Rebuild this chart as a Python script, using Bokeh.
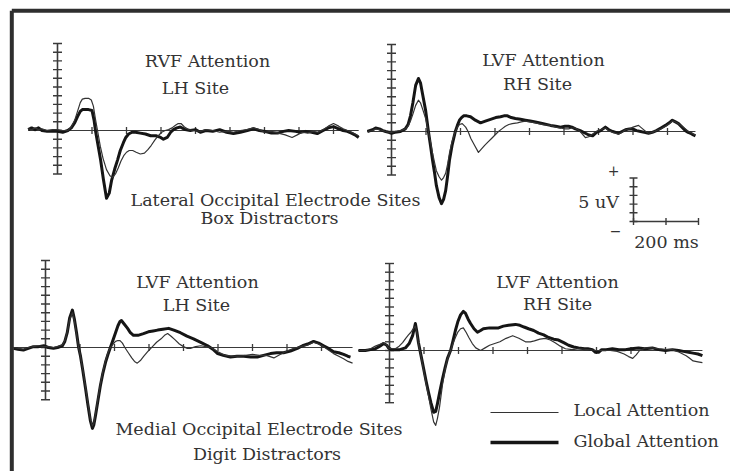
import math
from bokeh.plotting import figure
from bokeh.models import Range1d
from bokeh.core.properties import value
from bokeh.embed import file_html
from bokeh.resources import INLINE

# ---------------- data (time in ms, amplitude in microvolts, positive up) -------------
tl_global = [(-85, 0.1), (-75, 0.3), (-65, 0.1), (-55, 0.3), (-45, 0.0), (-30, -0.1), (-15, -0.1), (0, -0.1),
             (15, -0.2), (30, 0.0), (40, 0.3), (50, 0.9), (58, 1.6), (66, 2.2), (72, 2.4), (80, 2.4), (90, 2.4),
             (100, 2.3), (106, 1.2), (110, 0.0), (118, -1.8), (125, -3.4), (133, -5.6), (142, -7.8), (150, -7.2),
             (157, -5.7), (166, -4.4), (174, -3.4), (182, -2.3), (191, -1.4), (198, -0.8), (206, -0.4), (216, -0.2),
             (226, -0.2), (240, -0.3), (255, -0.4), (270, -0.6), (285, -0.6), (299, -0.8), (307, -1.0), (318, -0.8),
             (328, -0.2), (336, 0.1), (346, 0.3), (356, 0.4), (370, 0.1), (385, 0.0), (400, 0.1), (414, -0.2),
             (430, 0.0), (450, -0.1), (470, 0.1), (490, -0.2), (510, -0.35), (530, -0.2), (550, 0.0), (568, 0.2),
             (585, 0.0), (600, -0.1), (620, -0.3), (638, -0.3), (655, -0.1), (670, 0.0), (690, -0.1), (704, -0.2),
             (720, -0.1), (737, -0.2), (753, -0.35), (770, 0.0), (785, 0.3), (800, 0.45), (815, 0.2), (828, 0.0),
             (840, -0.1), (852, -0.3), (862, -0.5), (873, -0.8)]
tl_local = [(-85, 0.2), (-75, 0.1), (-65, 0.3), (-55, 0.1), (-45, 0.2), (-30, 0.0), (-15, 0.1), (0, 0.1),
            (15, 0.0), (30, 0.0), (40, 0.4), (50, 1.2), (58, 2.2), (66, 3.2), (72, 3.6), (80, 3.7), (90, 3.7),
            (98, 3.5), (104, 2.8), (110, 1.3), (116, 0.0), (124, -1.8), (132, -3.2), (142, -4.5), (152, -5.2),
            (160, -5.4), (168, -5.0), (176, -4.3), (184, -3.5), (192, -2.9), (200, -2.5), (208, -2.3), (218, -2.3),
            (228, -2.5), (240, -2.7), (252, -2.6), (262, -2.2), (272, -1.7), (282, -1.1), (292, -0.6), (302, -0.2),
            (312, 0.0), (322, 0.1), (332, 0.3), (342, 0.6), (350, 0.8), (358, 0.8), (368, 0.4), (380, 0.1),
            (395, 0.0), (414, -0.1), (430, 0.1), (450, 0.0), (470, -0.2), (490, -0.1), (510, -0.2), (530, 0.0),
            (550, 0.1), (568, 0.3), (585, 0.1), (600, -0.2), (620, -0.1), (640, -0.3), (660, -0.5), (680, -0.8),
            (695, -0.5), (710, -0.2), (725, -0.3), (740, -0.1), (755, -0.2), (770, 0.1), (785, 0.5), (800, 0.8),
            (815, 0.5), (828, 0.2), (840, 0.0), (852, -0.2), (862, -0.4), (873, -0.6)]

tr_global = [(-70, 0.0), (-55, 0.2), (-46, 0.4), (-35, 0.3), (-25, 0.1), (-17, 0.0), (-8, -0.1), (0, -0.2),
             (10, -0.1), (26, 0.0), (40, 0.3), (48, 0.8), (55, 1.8), (62, 3.3), (70, 5.3), (78, 6.1), (84, 5.6),
             (90, 4.3), (99, 2.4), (107, 0.0), (113, -1.6), (119, -3.3), (125, -4.8), (130, -6.2), (138, -7.6),
             (145, -8.3), (151, -7.8), (157, -6.8), (163, -5.0), (168, -3.3), (176, -1.5), (185, 0.0), (191, 0.7),
             (197, 1.3), (203, 1.6), (209, 1.8), (218, 1.8), (229, 1.7), (243, 1.3), (258, 1.0), (272, 1.2),
             (287, 1.4), (302, 1.6), (316, 1.7), (326, 1.8), (336, 1.8), (347, 1.6), (359, 1.5), (374, 1.4),
             (388, 1.3), (402, 1.2), (417, 1.1), (440, 0.9), (461, 0.7), (476, 0.6), (490, 0.5), (503, 0.6),
             (513, 0.6), (523, 0.5), (533, 0.3), (547, 0.1), (562, -0.2), (572, -0.4), (583, -0.5), (594, -0.1),
             (606, 0.1), (620, 0.5), (630, 0.2), (641, 0.0), (650, -0.1), (658, -0.2), (668, 0.0), (678, 0.2),
             (690, 0.3), (699, 0.3), (710, 0.1), (722, 0.0), (733, -0.1), (745, -0.2), (756, -0.1), (768, 0.1),
             (781, 0.4), (794, 0.7), (805, 1.0), (814, 1.3), (823, 1.1), (832, 0.9), (842, 0.5), (852, 0.1),
             (860, -0.1), (867, -0.2), (875, -0.4), (881, -0.5)]
tr_local = [(-70, 0.0), (-55, 0.1), (-46, 0.3), (-35, 0.2), (-25, 0.1), (-17, 0.0), (-8, -0.1), (0, -0.1),
            (10, 0.0), (26, 0.1), (40, 0.3), (48, 0.6), (55, 1.2), (62, 2.0), (70, 3.0), (78, 3.6), (84, 3.3),
            (90, 2.6), (99, 1.5), (107, 0.0), (113, -1.2), (119, -2.5), (125, -3.6), (130, -4.5), (138, -5.2),
            (145, -5.6), (151, -5.3), (157, -4.8), (163, -3.7), (168, -2.5), (176, -1.1), (185, 0.0), (191, 0.5),
            (197, 0.8), (205, 0.9), (215, 0.5), (222, 0.0), (230, -0.8), (241, -1.6), (252, -2.4), (261, -2.0),
            (270, -1.6), (280, -1.2), (290, -0.8), (300, -0.4), (310, 0.0), (320, 0.3), (330, 0.6), (340, 0.8),
            (350, 0.9), (365, 1.0), (376, 1.1), (388, 1.2), (402, 1.1), (417, 1.0), (440, 0.8), (461, 0.7),
            (476, 0.5), (490, 0.4), (503, 0.3), (513, 0.3), (523, 0.4), (533, 0.4), (547, 0.0), (562, -0.7),
            (572, -0.6), (583, -0.3), (594, 0.0), (606, 0.2), (620, 0.4), (630, 0.1), (641, -0.1), (650, -0.2),
            (658, -0.3), (668, -0.1), (678, 0.2), (690, 0.3), (700, 0.5), (716, 0.7), (728, 0.3), (737, 0.0),
            (745, -0.2), (756, -0.1), (768, 0.1), (781, 0.3), (794, 0.6), (805, 0.9), (814, 1.2), (823, 1.1),
            (832, 0.9), (842, 0.6), (852, 0.3), (860, 0.0), (867, -0.1), (875, -0.3), (881, -0.4)]

bl_global = [(-93, -0.1), (-80, -0.2), (-64, -0.3), (-50, -0.1), (-35, 0.1), (-20, 0.1), (-5, 0.2), (8, 0.0),
             (23, -0.1), (35, 0.0), (49, 0.2), (56, 0.7), (63, 1.7), (70, 3.4), (78, 4.3), (84, 3.2), (90, 1.7),
             (96, 0.0), (101, -0.9), (108, -2.6), (116, -4.7), (123, -6.6), (130, -8.4), (136, -9.3), (140, -8.9),
             (145, -7.8), (152, -6.1), (159, -4.4), (166, -3.0), (174, -1.7), (181, -0.8), (188, 0.0), (196, 0.9),
             (203, 1.7), (210, 2.5), (216, 3.0), (220, 3.1), (228, 2.7), (238, 2.2), (246, 1.7), (255, 1.4),
             (268, 1.4), (284, 1.6), (298, 1.8), (312, 1.9), (325, 2.0), (340, 2.1), (357, 2.2), (372, 2.0),
             (391, 1.7), (410, 1.3), (429, 1.0), (450, 0.6), (470, 0.2), (485, -0.2), (499, -0.7), (515, -0.9),
             (536, -1.1), (555, -1.0), (575, -1.0), (595, -1.1), (614, -1.1), (632, -0.9), (652, -0.7), (670, -0.6),
             (690, -0.6), (710, -0.4), (730, -0.1), (745, 0.2), (760, 0.4), (777, 0.7), (792, 0.5), (806, 0.2),
             (820, -0.1), (835, -0.5), (850, -0.6), (864, -0.8), (876, -1.0), (884, -1.1)]
bl_local = [(-93, 0.0), (-80, -0.1), (-64, -0.2), (-50, 0.0), (-35, 0.1), (-20, 0.2), (-5, 0.1), (8, 0.1),
            (23, 0.0), (35, 0.1), (49, 0.3), (56, 0.8), (63, 1.8), (70, 3.2), (78, 4.0), (84, 3.0), (90, 1.5),
            (96, 0.0), (101, -0.9), (108, -2.5), (116, -4.5), (123, -6.4), (130, -8.2), (136, -9.0), (140, -8.7),
            (145, -7.6), (152, -5.9), (159, -4.2), (166, -2.8), (174, -1.5), (181, -0.6), (188, 0.0), (196, 0.4),
            (203, 0.7), (210, 0.8), (216, 0.8), (223, 0.5), (230, 0.0), (240, -0.6), (250, -1.2), (258, -1.6),
            (266, -1.8), (275, -1.5), (285, -1.0), (298, -0.4), (310, 0.1), (322, 0.6), (335, 1.0), (345, 1.4),
            (354, 1.6), (364, 1.3), (375, 0.9), (388, 0.4), (400, 0.1), (411, -0.1), (420, -0.1), (435, 0.1),
            (450, 0.2), (465, 0.1), (480, 0.0), (500, -0.5), (520, -0.9), (540, -1.0), (560, -1.0), (580, -0.9),
            (600, -0.8), (620, -0.9), (640, -0.9), (662, -1.2), (680, -0.8), (700, -0.4), (720, -0.1), (740, 0.1),
            (760, 0.3), (777, 0.6), (792, 0.4), (806, 0.1), (820, -0.3), (835, -0.7), (850, -1.0), (864, -1.3),
            (877, -1.6), (890, -1.8)]

br_global = [(-90, 0.0), (-80, 0.0), (-70, 0.0), (-55, 0.1), (-41, 0.2), (-28, 0.5), (-17, 0.8), (-8, 0.6),
             (-3, 0.3), (5, 0.1), (17, 0.1), (30, 0.1), (46, 0.3), (57, 0.8), (67, 1.7), (75, 3.1), (80, 2.0),
             (84, 0.9), (92, -0.7), (99, -2.1), (106, -3.5), (113, -4.8), (120, -6.0), (128, -7.1), (134, -7.0),
             (139, -6.1), (146, -4.7), (154, -3.2), (161, -2.0), (168, -0.9), (177, 0.0), (184, 1.1), (191, 2.3),
             (198, 3.3), (206, 4.1), (214, 4.5), (220, 4.3), (228, 3.6), (235, 3.1), (245, 2.5), (255, 2.1),
             (264, 2.3), (272, 2.5), (290, 2.6), (305, 2.6), (316, 2.6), (330, 2.8), (345, 2.9), (365, 3.0),
             (378, 2.9), (390, 2.7), (403, 2.5), (418, 2.3), (432, 2.0), (447, 1.8), (461, 1.5), (476, 1.3),
             (490, 1.2), (505, 0.9), (519, 0.6), (534, 0.4), (548, 0.3), (565, 0.2), (575, 0.2), (588, 0.1),
             (597, -0.2), (606, -0.2), (615, 0.1), (628, 0.1), (646, 0.2), (665, 0.1), (684, 0.1), (700, 0.2),
             (722, 0.3), (740, 0.2), (762, 0.3), (780, 0.1), (800, 0.0), (820, 0.1), (838, 0.0), (852, -0.1),
             (867, -0.2), (880, -0.3), (894, -0.4), (907, -0.6)]
br_local = [(-90, 0.0), (-80, 0.0), (-70, 0.0), (-55, 0.2), (-41, 0.5), (-28, 0.7), (-17, 0.9), (-8, 0.6),
            (-3, 0.3), (5, 0.2), (17, 0.2), (28, 0.5), (38, 0.9), (47, 1.4), (55, 1.8), (62, 2.1), (67, 2.4),
            (75, 2.8), (80, 1.9), (84, 0.8), (92, -0.8), (99, -2.3), (106, -3.8), (113, -5.2), (120, -6.7),
            (128, -8.2), (134, -8.6), (139, -7.8), (145, -6.5), (154, -3.8), (161, -2.2), (168, -1.0), (177, 0.0),
            (184, 0.8), (191, 1.5), (198, 2.1), (206, 2.5), (214, 2.6), (222, 2.1), (230, 1.5), (240, 0.8),
            (250, 0.3), (264, 0.0), (277, 0.3), (290, 0.6), (305, 0.8), (320, 1.0), (338, 1.4), (357, 1.7),
            (375, 1.4), (394, 1.0), (408, 1.0), (420, 1.1), (436, 1.3), (452, 1.4), (466, 1.2), (480, 0.9),
            (495, 0.5), (510, 0.2), (530, 0.1), (550, 0.2), (575, 0.1), (600, 0.0), (620, 0.0), (640, 0.0),
            (660, -0.1), (680, -0.4), (693, -0.7), (705, -0.9), (715, -0.5), (725, 0.0), (742, 0.3), (760, 0.3),
            (780, 0.2), (800, 0.1), (820, 0.1), (840, -0.2), (860, -0.6), (870, -0.9), (880, -1.2), (894, -1.3),
            (907, -1.4)]

uv_ticks_top = [-5, -4, -3, -2, -1, 0, 1, 2, 3, 4, 5, 6, 7, 8, 9, 10]
uv_ticks_bottom = [-6, -5, -4, -3, -2, -1, 0, 1, 2, 3, 4, 5, 6, 7, 8, 9, 10]
ms_ticks = [100, 200, 300, 400, 500, 600, 700, 800]
scale_uv_ticks = [0, 1, 2, 3, 4, 5]
scale_ms_ticks = [0, 100, 200]

panel_titles = [("RVF Attention", "LH Site"), ("LVF Attention", "RH Site"),
                ("LVF Attention", "LH Site"), ("LVF Attention", "RH Site")]
group_labels = [("Lateral Occipital Electrode Sites", "Box Distractors"),
                ("Medial Occipital Electrode Sites", "Digit Distractors")]
legend_labels = ["Local Attention", "Global Attention"]

# ---------------- layout (page pixels) ----------------
W, H = 730, 471
X0, Y0 = 0, 0
PX_MS = 0.345
PX_UV = 8.7

panels = [
    dict(name="tl", ax=57, base=130, data=(tl_global, tl_local), ticks=uv_ticks_top),
    dict(name="tr", ax=391, base=131, data=(tr_global, tr_local), ticks=uv_ticks_top),
    dict(name="bl", ax=45, base=347, data=(bl_global, bl_local), ticks=uv_ticks_bottom),
    dict(name="br", ax=389, base=350, data=(br_global, br_local), ticks=uv_ticks_bottom),
]

p = figure(width=W, height=H, output_backend="svg", toolbar_location=None,
           x_range=Range1d(X0, X0 + W), y_range=Range1d(Y0 + H, Y0),
           min_border=0, x_axis_location=None, y_axis_location=None)
p.grid.visible = False
p.outline_line_color = None
p.background_fill_color = "white"
p.border_fill_color = "white"

xr, yr = {}, {}
def frame(name, ax, base, sx, sy):
    xr[name] = Range1d((X0 - ax) / sx, (X0 + W - ax) / sx)
    yr[name] = Range1d((base - (Y0 + H)) / sy, (base - Y0) / sy)

for pn in panels:
    frame(pn["name"], pn["ax"], pn["base"], PX_MS, PX_UV)
frame("sb", 633, 221, 0.325, PX_UV)
p.extra_x_ranges = xr
p.extra_y_ranges = yr

AX_COL = "#3a3a3a"
THICK = "#151515"
THIN = "#333333"

for pn in panels:
    n = pn["name"]
    g, l = pn["data"]
    gt = [a for a, b in g]; gv = [b for a, b in g]
    lt = [a for a, b in l]; lv = [b for a, b in l]
    t0 = min(gt[0], lt[0]); t1 = max(gt[-1], lt[-1])
    kw = dict(x_range_name=n, y_range_name=n)
    # baseline
    p.line([t0, t1], [0, 0], line_color=AX_COL, line_width=1.2, **kw)
    p.scatter(ms_ticks, [0] * len(ms_ticks), marker="dash", angle=math.pi / 2, size=7,
              line_color=AX_COL, line_width=1.3, **kw)
    # vertical axis
    tk = pn["ticks"]
    p.line([0, 0], [tk[0], tk[-1]], line_color=AX_COL, line_width=1.6, **kw)
    p.scatter([0] * len(tk), tk, marker="dash", size=9, line_color=AX_COL, line_width=1.4, **kw)
    # waveforms
    p.line(gt, gv, line_color=THICK, line_width=3, line_join="round", **kw)
    p.line(lt, lv, line_color=THIN, line_width=1.2, line_join="round", **kw)

# scale bar
kw = dict(x_range_name="sb", y_range_name="sb")
p.line([0, 0], [scale_uv_ticks[0], scale_uv_ticks[-1]], line_color=AX_COL, line_width=1.6, **kw)
p.scatter([0] * len(scale_uv_ticks), scale_uv_ticks, marker="dash", size=8, line_color=AX_COL, line_width=1.4, **kw)
p.line([scale_ms_ticks[0], scale_ms_ticks[-1]], [0, 0], line_color=AX_COL, line_width=1.6, **kw)
p.scatter(scale_ms_ticks, [0] * len(scale_ms_ticks), marker="dash", angle=math.pi / 2, size=7,
          line_color=AX_COL, line_width=1.4, **kw)

# frame border (left and top)
p.line([11.3, 11.3], [10.3, 475], line_color="#2e2e2e", line_width=4)
p.line([11.3, 735], [10.3, 10.3], line_color="#2e2e2e", line_width=4)

FONT = value("DejaVu Serif")
TXT = "#333333"
def txt(xs, ys, texts, align="center", size="17.5px"):
    p.text(x=xs, y=ys, text=texts, text_font=FONT, text_font_size=value(size),
           text_align=align, text_baseline="middle", text_color=TXT)

title_x = [207, 543, 197, 557]
title_y1 = [60, 59.5, 281, 281]
sub_x = [195, 537, 196, 557]
sub_y = [87, 83, 304.5, 303]
txt(title_x, title_y1, [a for a, b in panel_titles])
txt(sub_x, sub_y, [b for a, b in panel_titles])
txt([275, 258.5], [199, 428.5], [a for a, b in group_labels])
txt([269, 266.5], [217, 453], [b for a, b in group_labels])
txt([598], [201.5], ["5 uV"])
txt([613], [170], ["+"], size="14px")
txt([615], [230], ["\u2212"], size="14px")
txt([666], [241], ["200 ms"])

# legend
p.line([490, 558], [412, 412], line_color=THIN, line_width=1.2)
p.line([490, 558], [442, 442], line_color=THICK, line_width=3.5)
txt([573, 573], [409, 440], legend_labels, align="left")

open("out.html", "w").write(file_html(p, INLINE))
